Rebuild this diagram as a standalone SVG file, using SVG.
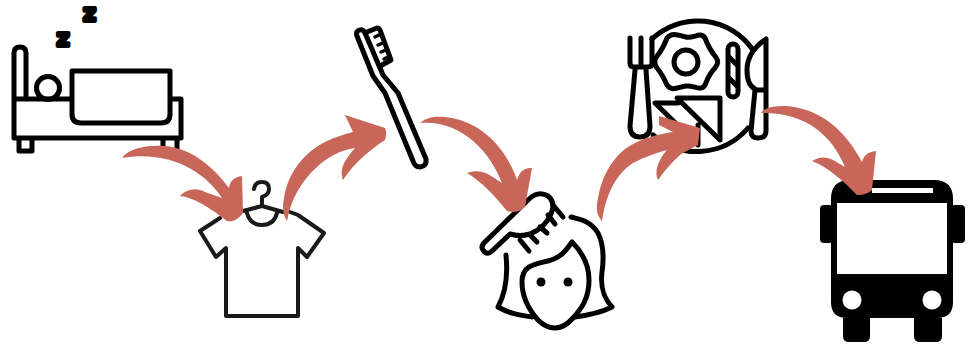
<svg xmlns="http://www.w3.org/2000/svg" width="969" height="345" viewBox="0 0 969 345">
<style>
.l{fill:none;stroke:#000;stroke-width:5;stroke-linecap:round;stroke-linejoin:round}
.t{fill:none;stroke:#1a1a18;stroke-width:4;stroke-linecap:round;stroke-linejoin:round}
.a{fill:#c8665a}
.z{font-family:"DejaVu Sans",sans-serif;font-weight:700;font-size:22.500px;fill:#000;stroke:#000;stroke-width:3.800;stroke-linejoin:round;text-anchor:middle}
</style>
<rect width="969" height="345" fill="#fff"/>
<g id="bed">
<path class="l" d="M14 99V53Q14 47 20 47Q26 47 26 53V98M14 99H71M14 99V138H181V99H171M19 139V151H32V139M163 139V150M177 139V150"/>
<path class="l" d="M72 71H170V114Q170 123 161 123H81Q72 123 72 114Z"/>
<circle class="l" cx="48" cy="88" r="11.500"/>
<text class="z" x="63" y="46">z</text>
<text class="z" x="89.500" y="21">z</text>
</g>
<g id="shirt">
<path class="t" d="M220 218L200 231L216 257L226 248V316H298V248L307 257L324 233L298 215L290 212M243 211L262 206L283 212M247 213Q250 225 262 225Q274 225 277 213M262 206V197Q269 195 269 189Q269 182 262 182Q255 182 254 189"/>
</g>
<g id="toothbrush">
<path class="l" d="M357 36Q355 31 360 30Q363 29 365 33L383 75L398 93L426 159Q427 166 420 167Q415 167 413 161L385 93L373 76Z"/>
<path class="l" d="M367 32L377 28Q379 28 380 30L391 60L382 65"/>
<path class="l" d="M375 37L379 35M378 45L383 43M381 52L386 50M384 59L388 57" style="stroke-width:3.500"/>
</g>
<g id="hair">
<path class="l" d="M486 241L528 200Q538 190 548 196Q556 203 551 214Q545 228 530 234Q520 237 510 234L492 251Q487 256 483 250Q480 246 486 241Z"/>
<path class="l" d="M553 205L563 217M548 215L555 224M540 227L547 233M530 235L537 242M520 240L529 251"/>
<path class="l" d="M571 217C578 219 590 220 598 233C604 245 604 258 602 272C600 288 604 298 612 307C600 313 590 315 575 317M506 255C508 275 506 292 498 307C510 314 520 315 532 317"/>
<path class="l" d="M572 242C565 252 560 258 548 261C535 264 522 265 522 282C522 298 530 311 538 320C544 326 549 328 555 328C561 328 567 325 573 318C582 308 589 298 589 280C589 262 580 250 572 242Z"/>
<circle cx="541" cy="282" r="4.500"/><circle cx="568" cy="282" r="4.500"/>
</g>
<g id="breakfast">
<path class="l" d="M652 39A67 67 0 0 1 753 50M653 135A67 67 0 0 0 748 128"/>
<path class="l" d="M630 38V63Q630 67 634 67H648Q652 67 652 63V38M641 38V66M635 70L630 126Q630 137 640 137Q650 137 650 126L646 70"/>
<path class="l" d="M667 38C672 32 678 35 686 37C694 39 700 31 705 38C708 46 710 50 715 56C719 61 718 64 715 68C709 74 708 78 705 85C701 92 694 85 686 86C678 87 672 92 667 85C664 78 662 74 657 68C654 64 654 60 657 56C662 50 664 46 667 38Z"/>
<circle class="l" cx="686" cy="62" r="12"/>
<rect class="l" x="728" y="44" width="10" height="53" rx="5"/>
<path class="l" d="M729 57L737 65M729 78L737 86"/>
<path class="l" d="M766 39V131Q766 138 758 138Q751 138 751 131L755 90H766M766 39Q747 52 747 70Q747 85 755 89"/>
<path class="l" d="M677 98H720V140ZM678 103H655L698 145V125"/>
</g>
<g id="bus">
<path d="M831 199Q831 180 850 180H934Q953 180 953 199V302Q953 318 937 318H942V336Q942 342 936 342H920Q914 342 914 336V318H870V336Q870 342 864 342H849Q843 342 843 336V318H847Q831 318 831 302Z"/>
<rect x="820" y="205" width="13" height="38" rx="4"/><rect x="951" y="205" width="14" height="38" rx="4"/>
<rect x="837" y="203" width="110" height="71" fill="#fff"/>
<rect x="872" y="188" width="61" height="5" fill="#fff"/>
<circle cx="852" cy="300" r="9.500" fill="#fff"/><circle cx="932" cy="300" r="9.500" fill="#fff"/>
</g>
<g id="connectors">
<path class="a" d="M122 158C130 147 150 145 165 146C190 148 212 165 229 188C230 180 235 177 242 176L243 213C238 220 232 222 227 221C215 212 197 198 180 196C188 188 197 188 205 192L222 198C205 172 170 150 122 158Z"/>
<path class="a" d="M287 221C283 215 282 208 284 198C288 172 305 152 325 142C335 137 345 134 353 132L345 115L385 128C387 132 386 137 385 140C370 150 355 162 343 180C340 170 342 163 355 148C340 150 328 157 318 166C300 182 291 200 287 221Z"/>
<path class="a" d="M420 123C427 117 435 116 445 117C478 120 505 145 517 180C520 170 525 168 532 168L525 207C520 212 513 213 507 211C495 196 482 182 467 173C475 170 482 171 488 174L502 183C490 152 462 120 420 123Z"/>
<path class="a" d="M602 221C596 214 596 208 598 198C602 175 612 160 625 149C640 138 660 134 673 132L659 125V116L700 128L698 145C688 150 683 153 680 155C672 162 665 170 658 180C654 172 658 160 667 150C655 153 645 157 633 163C615 175 606 195 602 221Z"/>
<path class="a" d="M761 113C765 107 775 106 785 106C820 108 845 130 862 162C864 155 868 152 876 151L872 190C868 194 862 195 857 195C845 183 830 168 812 161C820 156 827 157 833 160L845 167C832 135 805 112 761 113Z"/>
</g>
</svg>
